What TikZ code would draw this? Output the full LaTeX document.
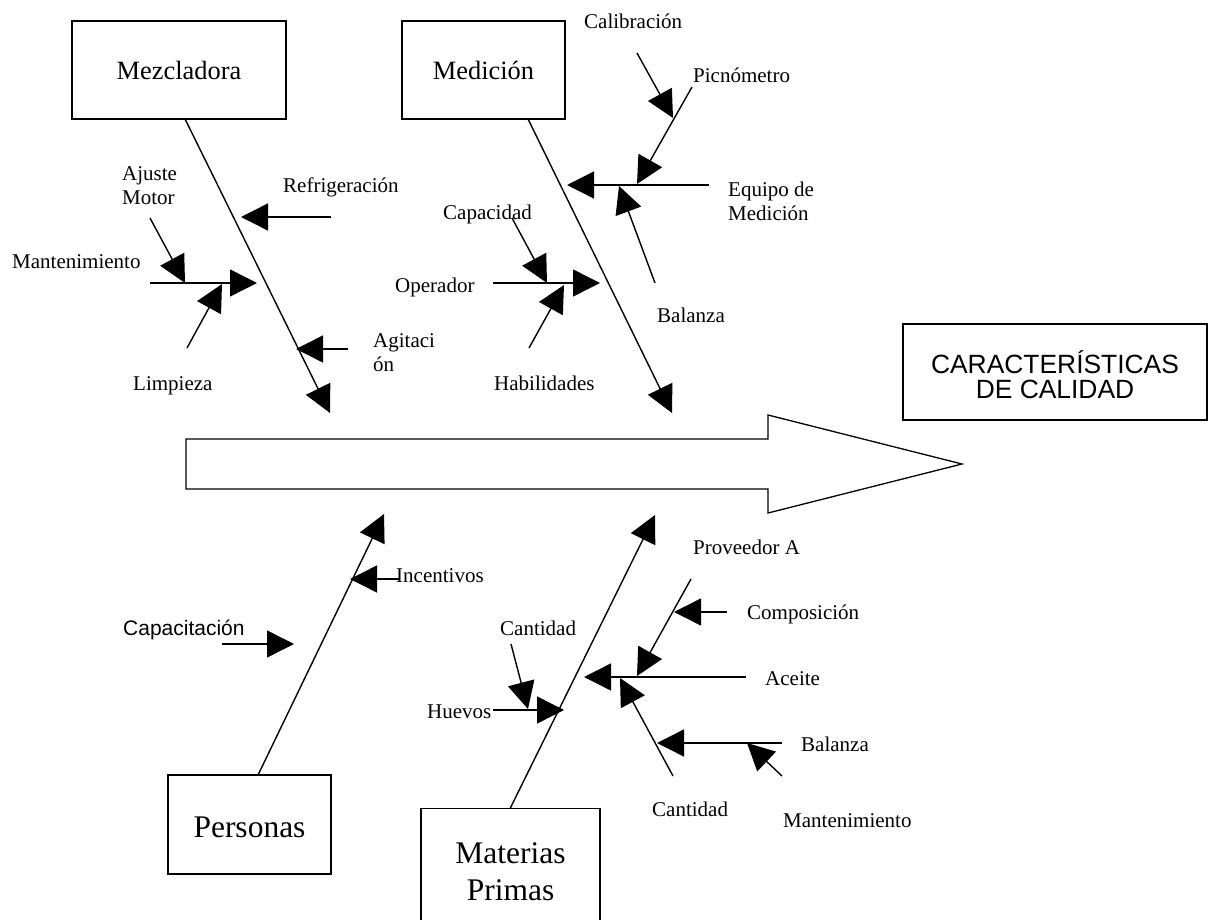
\documentclass[tikz,border=0pt]{standalone}
\usepackage{fontspec}
\setmainfont{Liberation Serif}
\newfontfamily\arialfont{Liberation Sans}
\usetikzlibrary{arrows.meta}
\begin{document}
\begin{tikzpicture}[x=1pt,y=-1pt,
  conn/.style={line width=1.4pt,-{Triangle[length=27pt,width=27pt]}},
  lbl/.style={inner sep=0pt,anchor=base west,align=left,font=\fontsize{21}{24}\selectfont},
  catbox/.style={draw,line width=1.3pt,inner sep=0pt,font=\fontsize{26.4}{30}\selectfont,text height=20pt,text depth=0pt},
  bigbox/.style={draw,line width=1.3pt,inner sep=0pt,font=\fontsize{31.5}{37}\selectfont,align=center},
]
\useasboundingbox (0,0) rectangle (1208,920);
\clip (0,0) rectangle (1208,920);

% category boxes
\node[catbox,minimum width=214pt,minimum height=98pt] (mez) at (179,70) {Mezcladora};
\node[catbox,minimum width=163pt,minimum height=98pt] (med) at (483.5,70) {Medición};
\node[bigbox,minimum width=163pt,minimum height=99pt,text height=25pt,text depth=0pt] (per) at (249.5,824.5) {Personas};
\node[bigbox,minimum width=179pt,minimum height=126pt,anchor=north] (mp) at (510.5,808) {Materias\\Primas};
\node[draw,line width=1.3pt,inner sep=0pt,minimum width=304pt,minimum height=96pt,align=center,
      font=\arialfont\fontsize{26.4}{25}\selectfont,text height=52pt,text depth=0pt] (car) at (1055,372) {CARACTERÍSTICAS\\DE CALIDAD};

% main effect arrow
\draw[line width=1.3pt] (186,439) -- (768,439) -- (768,415) -- (962,464) -- (768,513) -- (768,489) -- (186,489) -- cycle;

% coordinates
\coordinate (mezTip) at (330,413);
\coordinate (refA) at (331,217); \coordinate (refB) at (241,217);
\coordinate (manA) at (150,283); \coordinate (manB) at (257,283);
\coordinate (ajA) at (150,218);  \coordinate (ajB) at (185,283);
\coordinate (limA) at (187,348); \coordinate (limB) at (222,284);
\coordinate (agA) at (348,349);  \coordinate (agB) at (296,349);

\coordinate (medTip) at (672,413);
\coordinate (eqA) at (709,185);  \coordinate (eqB) at (567,185);
\coordinate (picA) at (692,87);  \coordinate (picB) at (637,184);
\coordinate (calA) at (637,53);  \coordinate (calB) at (673,118);
\coordinate (balA) at (655,283); \coordinate (balB) at (619,186);
\coordinate (opA) at (493,283);  \coordinate (opB) at (600,283);
\coordinate (capA) at (512,218); \coordinate (capB) at (547,283);
\coordinate (habA) at (529,348); \coordinate (habB) at (564,285);

\coordinate (perTip) at (384,514);
\coordinate (incA) at (400,579); \coordinate (incB) at (350,579);
\coordinate (cptA) at (222,644); \coordinate (cptB) at (294,644);

\coordinate (mpTip) at (655,515);
\coordinate (hueA) at (493,710); \coordinate (hueB) at (564,710);
\coordinate (canA) at (511,644); \coordinate (canB) at (528,709);
\coordinate (aceA) at (746,677); \coordinate (aceB) at (584,677);
\coordinate (proA) at (691,579); \coordinate (proB) at (637,676);
\coordinate (comA) at (727,612); \coordinate (comB) at (674,612);
\coordinate (cntA) at (673,776); \coordinate (cntB) at (620,678);
\coordinate (bzA) at (782,743);  \coordinate (bzB) at (657,743);
\coordinate (mtA) at (782,776);  \coordinate (mtB) at (747,743);

% Mezcladora
\draw[conn] ([xshift=114pt]mez.south west) -- (mezTip);
\draw[conn] (refA) -- (refB);
\draw[conn] (manA) -- (manB);
\draw[conn] (ajA) -- (ajB);
\draw[conn] (limA) -- (limB);
\draw[conn] (agA) -- (agB);

% Medicion
\draw[conn] ([xshift=127pt]med.south west) -- (medTip);
\draw[conn] (eqA) -- (eqB);
\draw[conn] (picA) -- (picB);
\draw[conn] (calA) -- (calB);
\draw[conn] (balA) -- (balB);
\draw[conn] (opA) -- (opB);
\draw[conn] (capA) -- (capB);
\draw[conn] (habA) -- (habB);

% Personas
\draw[conn] ([xshift=91pt]per.north west) -- (perTip);
\draw[conn] (incA) -- (incB);
\draw[conn] (cptA) -- (cptB);

% Materias Primas
\draw[conn] ([xshift=90pt]mp.north west) -- (mpTip);
\draw[conn] (hueA) -- (hueB);
\draw[conn] (canA) -- (canB);
\draw[conn] (aceA) -- (aceB);
\draw[conn] (proA) -- (proB);
\draw[conn] (comA) -- (comB);
\draw[conn] (cntA) -- (cntB);
\draw[conn] (bzA) -- (bzB);
\draw[conn] (mtA) -- (mtB);

% labels (multi-line labels anchored at the baseline of their last line)
\node[lbl] (lRef) at (283,193) {Refrigeración};
\node[lbl] (lAju) at (122,205) {Ajuste\\Motor};
\node[lbl] (lMan) at (12,269) {Mantenimiento};
\node[lbl] (lLim) at (133,390) {Limpieza};
\node[lbl] (lAgi) at (373,371) {Agitaci\\ón};
\node[lbl] (lCal) at (584,29) {Calibración};
\node[lbl] (lPic) at (693,83) {Picnómetro};
\node[lbl] (lEqu) at (728,221) {Equipo de\\Medición};
\node[lbl] (lCap) at (443,220) {Capacidad};
\node[lbl] (lOpe) at (395,292) {Operador};
\node[lbl] (lHab) at (494,390) {Habilidades};
\node[lbl] (lBal) at (657,323) {Balanza};
\node[lbl] (lInc) at (396,582) {Incentivos};
\node[lbl,font=\arialfont\fontsize{21}{24}\selectfont] (lCpt) at (123,635) {Capacitación};
\node[lbl] (lCan) at (500,635) {Cantidad};
\node[lbl] (lHue) at (427,718) {Huevos};
\node[lbl] (lPro) at (693,554) {Proveedor A};
\node[lbl] (lCom) at (747,619) {Composición};
\node[lbl] (lAce) at (765,685) {Aceite};
\node[lbl] (lBz) at (801,751) {Balanza};
\node[lbl] (lCnt) at (652,816) {Cantidad};
\node[lbl] (lMt) at (783,827) {Mantenimiento};
\end{tikzpicture}
\end{document}
